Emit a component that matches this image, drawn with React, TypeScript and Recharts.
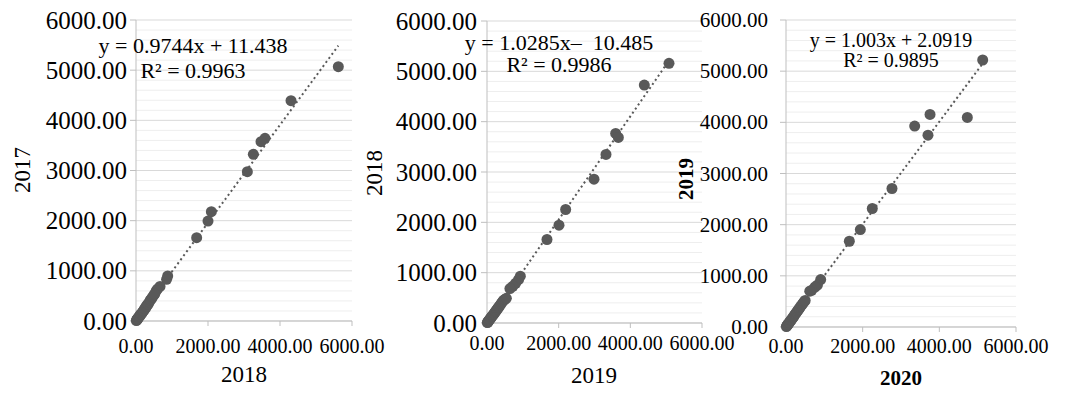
import React from 'react'
import { ScatterChart, Scatter, XAxis, YAxis, CartesianGrid, ReferenceLine, Label } from 'recharts'

// 2018 (x) vs 2017 (y)
const points2018 = [
  [5620, 5070], [4306, 4391], [3583, 3642], [3472, 3574], [3259, 3323], [3093, 2976],
  [2093, 2179], [2000, 1993], [1685, 1661], [880, 897], [850, 830], [667, 690], [600, 640], [560, 600],
  [10, 8], [20, 18], [30, 35], [45, 40], [60, 55], [75, 80], [90, 85], [110, 100], [125, 130],
  [140, 135], [160, 150], [180, 175], [200, 195], [220, 210], [240, 245], [260, 250], [280, 290],
  [300, 295], [320, 330], [340, 335], [370, 380], [400, 420], [430, 440], [460, 480], [500, 520], [520, 540],
]
// 2019 (x) vs 2018 (y)
const points2019 = [
  [5079, 5159], [4390, 4727], [3591, 3767], [3665, 3687], [3321, 3349], [2986, 2858],
  [2195, 2255], [2009, 1943], [1674, 1659], [930, 930], [880, 860], [800, 790], [720, 730], [640, 684],
  [10, 8], [20, 15], [30, 28], [45, 40], [60, 55], [75, 70], [90, 85], [110, 100], [125, 120],
  [140, 135], [160, 150], [180, 170], [200, 190], [220, 210], [240, 230], [260, 250], [280, 270],
  [300, 290], [320, 310], [340, 330], [370, 360], [400, 390], [430, 420], [460, 450], [500, 470], [540, 490],
]
// 2020 (x) vs 2019 (y)
const points2020 = [
  [5131, 5218], [4730, 4096], [3757, 4155], [3357, 3926], [3704, 3750], [2765, 2707],
  [2251, 2316], [1939, 1905], [1652, 1676], [905, 927], [820, 820], [757, 782], [670, 718], [620, 700],
  [10, 8], [20, 18], [30, 30], [45, 45], [60, 58], [75, 78], [90, 92], [110, 108], [125, 128],
  [140, 142], [160, 165], [180, 185], [200, 205], [220, 228], [240, 250], [260, 270], [280, 290],
  [300, 315], [320, 335], [340, 355], [360, 380], [390, 410], [420, 440], [450, 470], [480, 500], [500, 520],
]

const trend2017 = { slope: 0.9744, intercept: 11.438 }
const trend2018 = { slope: 1.0285, intercept: -10.485 }
const trend2019 = { slope: 1.003, intercept: 2.0919 }

const xTicks = [0, 2000, 4000, 6000]
const yTicks = [0, 1000, 2000, 3000, 4000, 5000, 6000]
const minorTicks = [200, 400, 600, 800, 1200, 1400, 1600, 1800, 2200, 2400, 2600, 2800, 3200, 3400, 3600, 3800, 4200, 4400, 4600, 4800, 5200, 5400, 5600, 5800]

const DOT = '#595959'
const AXIS = '#bfbfbf'
const FONT = '"Liberation Serif", "Times New Roman", serif'
const fmt = (v: number) => v.toFixed(2)

type PanelProps = {
  left: number
  width: number
  yAxisWidth: number
  marginTop: number
  marginRight: number
  xAxisHeight: number
  points: number[][]
  trend: { slope: number; intercept: number }
  xTitle: string
  yTitle: string
  titleBold: boolean
  titleSize: number
  yTitlePos: [number, number]
  xTitlePos: [number, number]
  yTickFont: number
  yTickSize: number
  yTickMargin: number
  xTickSize: number
  xTickMargin: number
  eq: string
  r2: string
  eqSize: number
  eqPos: [number, number, number]
}

function Panel(p: PanelProps) {
  const data = p.points.map(([x, y]) => ({ x, y }))
  const maxX = Math.max(...p.points.map((d) => d[0]))
  const seg = [
    { x: 0, y: p.trend.intercept < 0 ? 0 : p.trend.intercept },
    { x: maxX, y: p.trend.slope * maxX + p.trend.intercept },
  ]
  const fw = p.titleBold ? 700 : 400
  const overlay = () => (
    <g fontFamily={FONT} fill="#000">
      <text x={p.yTitlePos[0]} y={p.yTitlePos[1]} fontSize={p.titleSize} fontWeight={fw} textAnchor="middle"
        dominantBaseline="central" transform={`rotate(-90 ${p.yTitlePos[0]} ${p.yTitlePos[1]})`}>{p.yTitle}</text>
      <text x={p.xTitlePos[0]} y={p.xTitlePos[1]} fontSize={p.titleSize} fontWeight={fw} textAnchor="middle">{p.xTitle}</text>
      <text x={p.eqPos[0]} y={p.eqPos[1]} fontSize={p.eqSize} textAnchor="middle" style={{ whiteSpace: 'pre' }}>{p.eq}</text>
      <text x={p.eqPos[0]} y={p.eqPos[2]} fontSize={p.eqSize} textAnchor="middle">{p.r2}</text>
    </g>
  )
  const xTick = (t: any) => (
    <text x={t.x} y={t.y} dy="0.71em" textAnchor="middle" fontSize={20} fontFamily={FONT} fill="#000">{fmt(t.payload.value)}</text>
  )
  const yTick = (t: any) => (
    <text x={t.x} y={t.y} dy="0.34em" textAnchor="end" fontSize={p.yTickFont} fontFamily={FONT} fill="#000">{fmt(t.payload.value)}</text>
  )
  return (
    <div style={{ position: 'absolute', left: p.left, top: 0 }}>
      <ScatterChart width={p.width} height={394} margin={{ top: p.marginTop, right: p.marginRight, left: 0, bottom: 0 }}>
        <CartesianGrid vertical={false} stroke="#d9d9d9" />
        {minorTicks.map((v) => (
          <ReferenceLine key={v} y={v} stroke="#eeeeee" />
        ))}
        <XAxis type="number" dataKey="x" domain={[0, 6000]} ticks={xTicks} interval={0} height={p.xAxisHeight}
          tick={xTick} axisLine={{ stroke: AXIS }} tickLine={{ stroke: AXIS }} tickSize={p.xTickSize} tickMargin={p.xTickMargin} />
        <YAxis type="number" dataKey="y" domain={[0, 6000]} ticks={yTicks} interval={0} width={p.yAxisWidth}
          tick={yTick} axisLine={{ stroke: AXIS }} tickLine={{ stroke: AXIS }} tickSize={p.yTickSize} tickMargin={p.yTickMargin}>
          <Label content={overlay} />
        </YAxis>
        <ReferenceLine segment={seg} stroke={DOT} strokeWidth={2} strokeDasharray="2 3" />
        <Scatter data={data} isAnimationActive={false}
          shape={(s: any) => <circle cx={s.cx} cy={s.cy} r={5.5} fill={DOT} />} />
      </ScatterChart>
    </div>
  )
}

export default function App() {
  return (
    <div style={{ position: 'absolute', left: 0, top: 0, width: 1067, height: 394, background: '#fff', fontFamily: FONT, overflow: 'hidden' }}>
      <Panel left={0} width={400} yAxisWidth={136} marginTop={20} marginRight={48} xAxisHeight={73}
        points={points2018} trend={trend2017} xTitle="2018" yTitle="2017" titleBold={false} titleSize={23}
        yTitlePos={[22, 170]} xTitlePos={[244, 382]} yTickFont={25} yTickSize={6} yTickMargin={3} xTickSize={5} xTickMargin={13}
        eq="y = 0.9744x + 11.438" r2="R² = 0.9963" eqSize={22} eqPos={[193, 53, 78]} />
      <Panel left={355} width={390} yAxisWidth={132} marginTop={21} marginRight={43} xAxisHeight={71}
        points={points2019} trend={trend2018} xTitle="2019" yTitle="2018" titleBold={false} titleSize={23}
        yTitlePos={[19, 173]} xTitlePos={[239, 383]} yTickFont={25} yTickSize={6} yTickMargin={4} xTickSize={5} xTickMargin={8}
        eq="y = 1.0285x–  10.485" r2="R² = 0.9986" eqSize={22} eqPos={[204, 50, 72]} />
      <Panel left={660} width={407} yAxisWidth={126} marginTop={20} marginRight={51} xAxisHeight={67}
        points={points2020} trend={trend2019} xTitle="2020" yTitle="2019" titleBold={true} titleSize={21}
        yTitlePos={[26, 179]} xTitlePos={[241, 385]} yTickFont={21} yTickSize={6} yTickMargin={12} xTickSize={5} xTickMargin={7}
        eq="y = 1.003x + 2.0919" r2="R² = 0.9895" eqSize={20} eqPos={[231, 47, 67]} />
    </div>
  )
}
